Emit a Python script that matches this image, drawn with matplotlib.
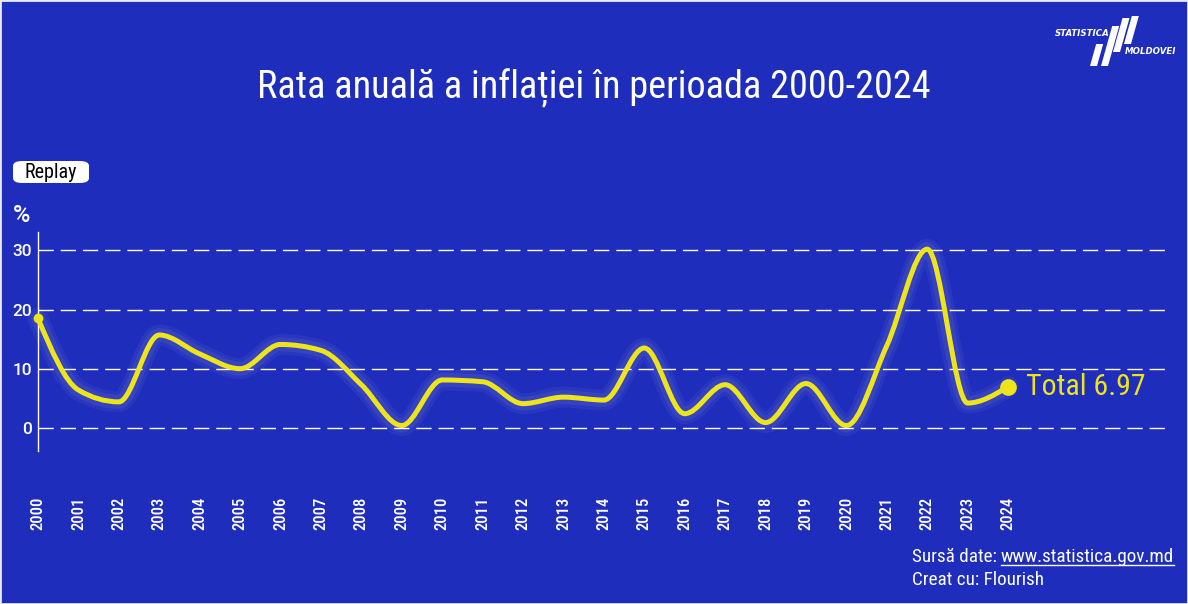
#!/usr/bin/env python3
"""Annual inflation rate in Moldova, 2000-2024 (Flourish-style line chart)."""

import matplotlib

matplotlib.use("Agg")
import matplotlib.pyplot as plt  # noqa: E402
import numpy as np  # noqa: E402
from matplotlib import font_manager  # noqa: E402
from matplotlib.patches import FancyBboxPatch, PathPatch, Polygon, Rectangle  # noqa: E402
from matplotlib.path import Path  # noqa: E402
from matplotlib.lines import Line2D  # noqa: E402

# data
years = list(range(2000, 2025))
inflation = [18.5, 6.4, 4.4, 15.7, 12.5, 10.0, 14.1, 13.1, 7.3, 0.4,
             8.1, 7.8, 4.1, 5.2, 4.7, 13.5, 2.4, 7.3, 0.9, 7.5,
             0.4, 13.9, 30.2, 4.2, 6.97]
y_ticks = [0, 10, 20, 30]
title = "Rata anuală a inflației în perioada 2000-2024"
last_label = "Total 6.97"

BG = "#1E2DBB"
LINE = "#EDE41B"
W, H = 1188, 604

names = {f.name for f in font_manager.fontManager.ttflist}
FONT = "Roboto Condensed" if "Roboto Condensed" in names else "Roboto"
plt.rcParams["font.family"] = [FONT, "DejaVu Sans"]


def monotone_path(x, y):
    """Cubic Bezier path with monotone-x tangents (same shape as d3.curveMonotoneX)."""
    x = np.asarray(x, float)
    y = np.asarray(y, float)
    n = len(x)
    h = np.diff(x)
    s = np.diff(y) / h
    t = np.zeros(n)
    for i in range(1, n - 1):
        p = (s[i - 1] * h[i] + s[i] * h[i - 1]) / (h[i - 1] + h[i])
        t[i] = (np.sign(s[i - 1]) + np.sign(s[i])) * min(abs(s[i - 1]), abs(s[i]), 0.5 * abs(p))
    t[0] = (3 * s[0] - t[1]) / 2
    t[-1] = (3 * s[-1] - t[-2]) / 2
    verts = [(x[0], y[0])]
    codes = [Path.MOVETO]
    for i in range(n - 1):
        d = h[i] / 3
        verts += [(x[i] + d, y[i] + t[i] * d), (x[i + 1] - d, y[i + 1] - t[i + 1] * d), (x[i + 1], y[i + 1])]
        codes += [Path.CURVE4] * 3
    return Path(verts, codes)


fig = plt.figure(figsize=(W / 100, H / 100), dpi=100, facecolor=BG)


def px(x, y):
    return x / W, 1 - y / H


# plot area: x 38..1165 px, y 232..451 px
ax = fig.add_axes([38 / W, (H - 451) / H, (1165 - 38) / W, (451 - 232) / H])
ax.set_facecolor(BG)
ax.set_xlim(2000, 2000 + (1165 - 38) / 40.42)
ax.set_ylim(-3.9, 33.1)

for side in ("top", "right", "bottom"):
    ax.spines[side].set_visible(False)
ax.spines["left"].set_color("white")
ax.spines["left"].set_linewidth(1.0)

ax.set_yticks(y_ticks)
ax.set_yticklabels([str(v) for v in y_ticks], family=["Roboto", "DejaVu Sans"], fontweight="medium")
ax.set_xticks(years)
ax.set_xticklabels([str(v) for v in years], rotation=90, va="top", ha="center", fontweight="medium")
ax.tick_params(axis="y", length=0, pad=4, colors="white", labelsize=12.5)
ax.tick_params(axis="x", length=0, pad=33, colors="white", labelsize=12)
ax.grid(axis="y", color="white", lw=1.0, linestyle=(0, (11, 5)))
ax.grid(axis="x", visible=False)
ax.set_axisbelow(True)

curve = monotone_path(years, inflation)
for lw, alpha in ((15, 0.05), (10, 0.06)):
    ax.add_patch(PathPatch(curve, fill=False, edgecolor="white", alpha=alpha, lw=lw,
                           capstyle="round", joinstyle="round", clip_on=False))
ax.add_patch(PathPatch(curve, fill=False, edgecolor=LINE, lw=3.6,
                       capstyle="round", joinstyle="round", clip_on=False, zorder=3))
ax.plot(years[0], inflation[0], "o", color=LINE, ms=6, clip_on=False, zorder=4)
ax.plot(years[-1], inflation[-1], "o", color=LINE, ms=11, clip_on=False, zorder=4)
ax.annotate(last_label, xy=(years[-1], inflation[-1]), xytext=(13, 0), textcoords="offset points",
            color=LINE, fontsize=21.5, va="center", ha="left")

# title, y unit, replay button
fig.text(*px(594, 88), title, color="white", fontsize=27.5, ha="center", va="center")
fig.text(*px(13, 215), "%", color="white", fontsize=17, fontweight="medium", ha="left", va="center",
         family=["Roboto", "DejaVu Sans"])
fig.add_artist(FancyBboxPatch(px(13, 183), 76 / W, 22 / H,
                              boxstyle="round,pad=0,rounding_size=0.008",
                              transform=fig.transFigure, fc="white", ec="none"))
fig.text(*px(51, 172), "Replay", color="black", fontsize=14.5, ha="center", va="center")

# footer with underlined source link
url = fig.text(*px(1174, 562), "www.statistica.gov.md", color="white", fontsize=13.8,
               ha="right", va="baseline")
fig.canvas.draw()
bb = url.get_window_extent(renderer=fig.canvas.get_renderer())
src = fig.text((bb.x0 - 4) / W, 1 - 562 / H, "Sursă date:", color="white", fontsize=13.8,
               ha="right", va="baseline")
fig.add_artist(Line2D([bb.x0 / W, bb.x1 / W], [(H - 565) / H] * 2, color="white", lw=1.0,
                      transform=fig.transFigure))
fig.canvas.draw()
sb = src.get_window_extent(renderer=fig.canvas.get_renderer())
fig.text(sb.x0 / W, 1 - 585 / H, "Creat cu: Flourish", color="white", fontsize=13.8,
         ha="left", va="baseline")

# Statistica Moldovei logo
fig.text(*px(1082, 34), "STATISTICA", color="white", fontsize=6.2, fontweight="bold",
         fontstyle="italic", ha="center", va="center", family="DejaVu Sans")
fig.text(*px(1151, 52), "MOLDOVEI", color="white", fontsize=6.2, fontweight="bold",
         fontstyle="italic", ha="center", va="center", family="DejaVu Sans")
for xb, yb, yt in ((1090, 66, 44), (1101, 66, 26), (1113, 52, 18), (1124, 44, 16)):
    slant = 0.28 * (yb - yt)
    corners = [px(xb, yb), px(xb + 7, yb), px(xb + 7 + slant, yt), px(xb + slant, yt)]
    fig.add_artist(Polygon(corners, closed=True, transform=fig.transFigure, fc="white", ec="none"))

# thin light frame around the graphic
fig.add_artist(Rectangle((0, 0), 1, 1, transform=fig.transFigure, fill=False, ec="#e8e8ee", lw=2))

fig.savefig("out.png", dpi=100, facecolor=BG)
